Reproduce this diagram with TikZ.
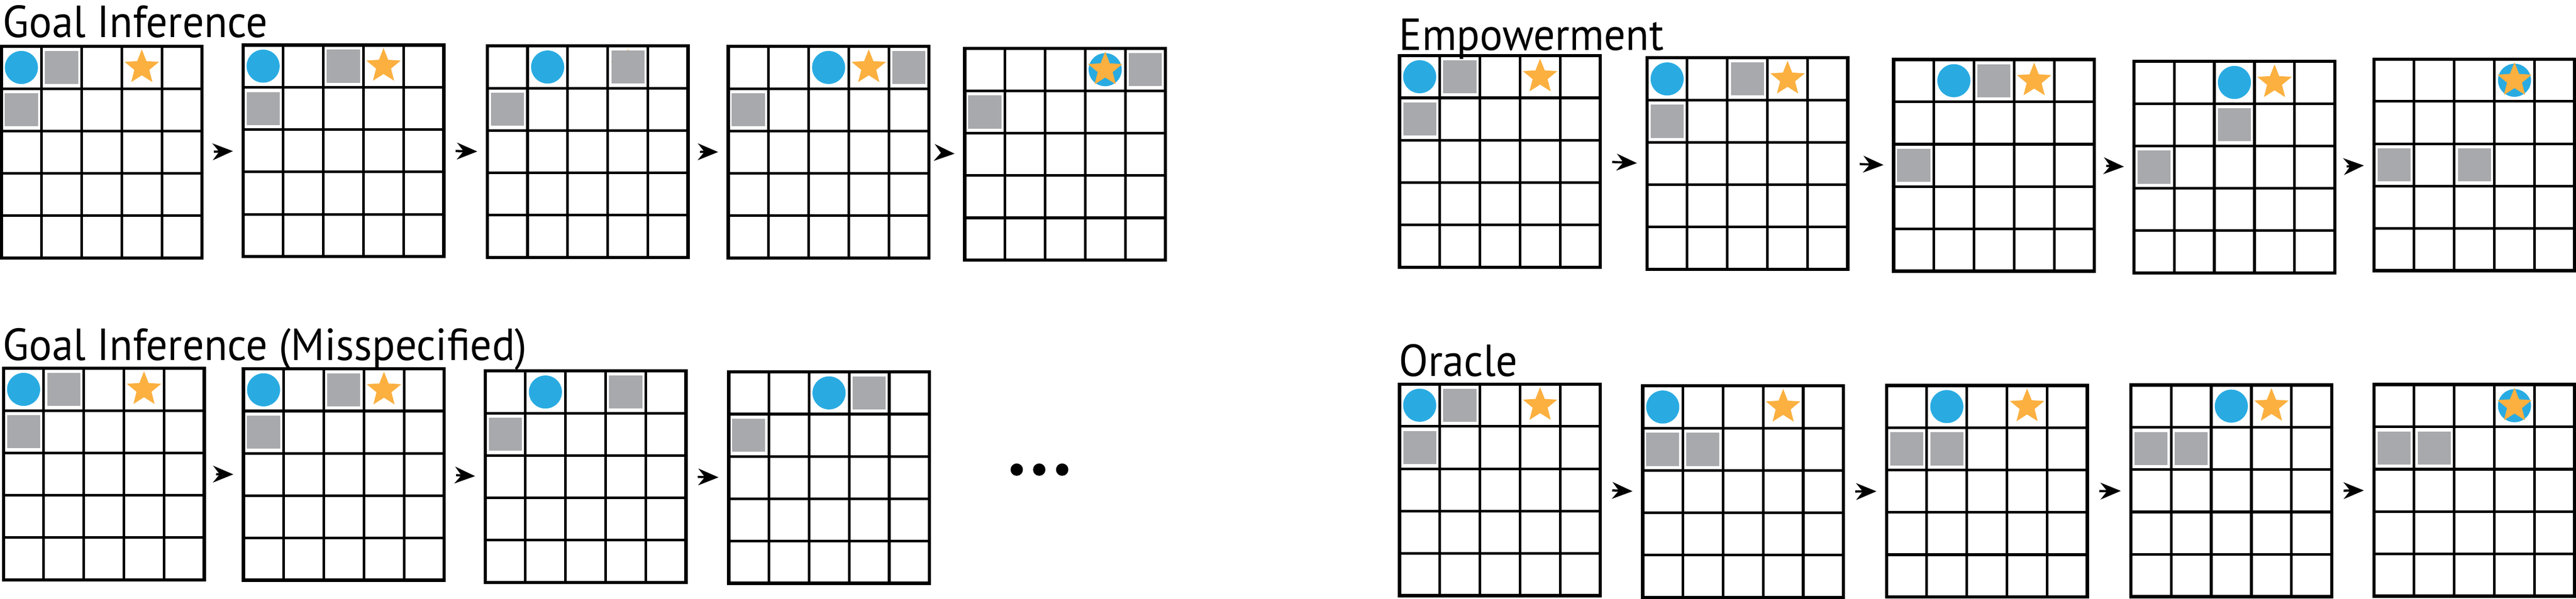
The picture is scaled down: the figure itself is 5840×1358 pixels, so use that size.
\documentclass[tikz,border=0pt]{standalone}
\usepackage{fontspec}
\setmainfont{PT Sans}
\usetikzlibrary{calc,arrows.meta,shapes.geometric}
\definecolor{agentc}{HTML}{29ABE2}
\definecolor{boxc}{HTML}{A7A9AC}
\definecolor{starc}{HTML}{FBB040}
\tikzset{
  gridbox/.style={draw=black,line width=0.75pt,minimum width=45.5pt,minimum height=48pt,inner sep=0pt,outer sep=0pt,anchor=north west},
  gl/.style={draw=black,line width=0.6pt},
  agentst/.style={circle,fill=agentc,minimum size=7.5pt,inner sep=0pt},
  boxst/.style={rectangle,fill=boxc,minimum size=7.5pt,inner sep=0pt},
  starst/.style={star,star points=5,star point ratio=2.3,fill=starc,minimum size=8.2pt,inner sep=0pt},
  titlest/.style={anchor=base west,font=\fontsize{10.2pt}{12pt}\selectfont,inner sep=0pt,xscale=0.95},
  arr/.style={-{Stealth[length=4.6pt,width=3.8pt]},line width=0.5pt,shorten <=2.7pt,shorten >=2.3pt},
  dotst/.style={circle,fill=black,minimum size=2.8pt,inner sep=0pt}
}
\newcommand\gridw[3]{%
  \node[gridbox] (#1) at (#2,#3) {};
  \foreach \i in {1,...,4} {\draw[gl] ($(#1.north west)+(\i*91,0)$) -- ++(0,480);}
  \foreach \j in {1,...,4} {\draw[gl] ($(#1.north west)+(0,\j*96)$) -- ++(455,0);}
}
\newcommand\cellc[3]{($(#1.north west)+({(#2+0.5)*91},{(#3+0.5)*96})$)}
\newcommand\agt[3]{\node[agentst] at \cellc{#1}{#2}{#3} {};}
\newcommand\bx[3]{\node[boxst] at \cellc{#1}{#2}{#3} {};}
\newcommand\st[3]{\node[starst] at \cellc{#1}{#2}{#3} {};}
\newcommand\nx[2]{\draw[arr] (#1.east) -- (#2.west);}
\begin{document}
\begin{tikzpicture}[x=0.1pt,y=-0.1pt]
\useasboundingbox (0,0) rectangle (5840,1358);
\fill[white] (0,0) rectangle (5840,1358);
% titles
\node[titlest] (t1) at (5,85) {Goal Inference};
\node[titlest] (t2) at (5,817) {Goal Inference (Misspecified)};
\node[titlest] (t3) at (3170,114) {Empowerment};
\node[titlest] (t4) at (3170,853) {Oracle};
% Goal inference
\gridw{a1}{3}{105}
\gridw{a2}{551}{102}
\gridw{a3}{1105}{104}
\gridw{a4}{1651}{105}
\gridw{a5}{2187}{110}
\agt{a1}{0}{0}\bx{a1}{1}{0}\st{a1}{3}{0}\bx{a1}{0}{1}
\agt{a2}{0}{0}\bx{a2}{2}{0}\st{a2}{3}{0}\bx{a2}{0}{1}
\st{a3}{3}{0}\agt{a3}{1}{0}\bx{a3}{3}{0}\bx{a3}{0}{1}
\agt{a4}{2}{0}\st{a4}{3}{0}\bx{a4}{4}{0}\bx{a4}{0}{1}
\agt{a5}{3}{0}\st{a5}{3}{0}\bx{a5}{4}{0}\bx{a5}{0}{1}
\nx{a1}{a2}\nx{a2}{a3}\nx{a3}{a4}\nx{a4}{a5}
% Misspecified
\gridw{b1}{8}{835}
\gridw{b2}{552}{836}
\gridw{b3}{1100}{841}
\gridw{b4}{1652}{843}
\agt{b1}{0}{0}\bx{b1}{1}{0}\st{b1}{3}{0}\bx{b1}{0}{1}
\agt{b2}{0}{0}\bx{b2}{2}{0}\st{b2}{3}{0}\bx{b2}{0}{1}
\agt{b3}{1}{0}\bx{b3}{3}{0}\bx{b3}{0}{1}
\agt{b4}{2}{0}\bx{b4}{3}{0}\bx{b4}{0}{1}
\nx{b1}{b2}\nx{b2}{b3}\nx{b3}{b4}
\node[dotst] (d1) at (2305,1065) {};
\node[dotst] (d2) at (2356,1065) {};
\node[dotst] (d3) at (2408,1065) {};
% Empowerment
\gridw{c1}{3173}{126}
\gridw{c2}{3734}{131}
\gridw{c3}{4293}{135}
\gridw{c4}{4838}{139}
\gridw{c5}{5382}{134}
\agt{c1}{0}{0}\bx{c1}{1}{0}\st{c1}{3}{0}\bx{c1}{0}{1}
\agt{c2}{0}{0}\bx{c2}{2}{0}\st{c2}{3}{0}\bx{c2}{0}{1}
\agt{c3}{1}{0}\bx{c3}{2}{0}\st{c3}{3}{0}\bx{c3}{0}{2}
\agt{c4}{2}{0}\st{c4}{3}{0}\bx{c4}{2}{1}\bx{c4}{0}{2}
\agt{c5}{3}{0}\st{c5}{3}{0}\bx{c5}{0}{2}\bx{c5}{2}{2}
\nx{c1}{c2}\nx{c2}{c3}\nx{c3}{c4}\nx{c4}{c5}
% Oracle
\gridw{o1}{3173}{871}
\gridw{o2}{3724}{875}
\gridw{o3}{4277}{874}
\gridw{o4}{4831}{873}
\gridw{o5}{5382}{872}
\agt{o1}{0}{0}\bx{o1}{1}{0}\st{o1}{3}{0}\bx{o1}{0}{1}
\agt{o2}{0}{0}\st{o2}{3}{0}\bx{o2}{0}{1}\bx{o2}{1}{1}
\agt{o3}{1}{0}\st{o3}{3}{0}\bx{o3}{0}{1}\bx{o3}{1}{1}
\agt{o4}{2}{0}\st{o4}{3}{0}\bx{o4}{0}{1}\bx{o4}{1}{1}
\agt{o5}{3}{0}\st{o5}{3}{0}\bx{o5}{0}{1}\bx{o5}{1}{1}
\nx{o1}{o2}\nx{o2}{o3}\nx{o3}{o4}\nx{o4}{o5}
\end{tikzpicture}
\end{document}
